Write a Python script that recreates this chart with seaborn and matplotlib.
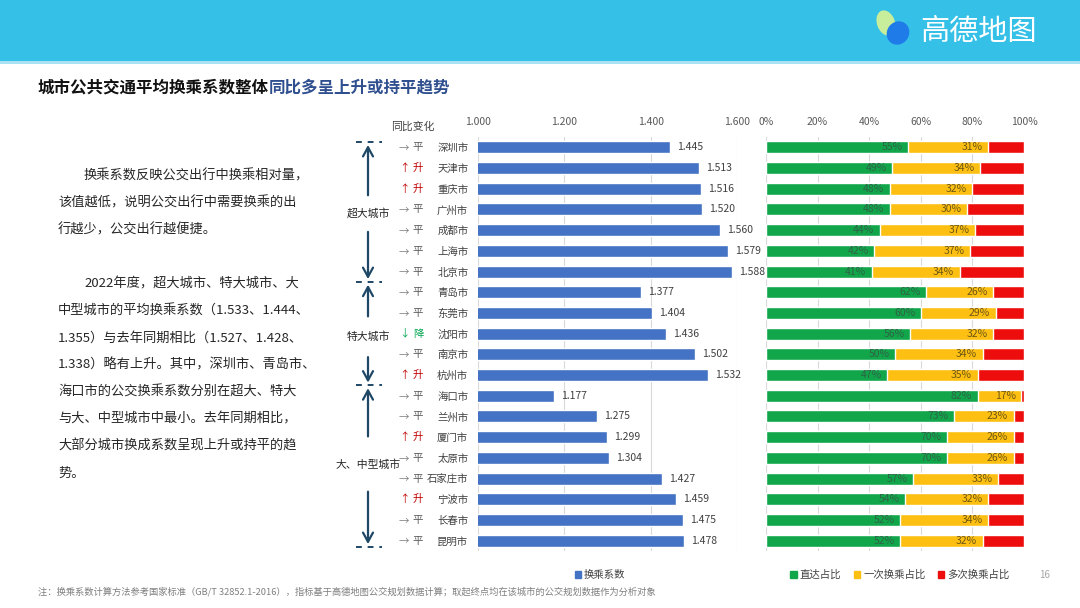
import numpy as np
import pandas as pd
import matplotlib
matplotlib.use('Agg')
import matplotlib.pyplot as plt
import seaborn as sns
from matplotlib.patches import Patch, Rectangle, Ellipse
from matplotlib import transforms

# ---------------- data ----------------
cities = ['深圳市', '天津市', '重庆市', '广州市', '成都市', '上海市', '北京市',
          '青岛市', '东莞市', '沈阳市', '南京市', '杭州市',
          '海口市', '兰州市', '厦门市', '太原市', '石家庄市', '宁波市', '长春市', '昆明市']
coef = [1.445, 1.513, 1.516, 1.520, 1.560, 1.579, 1.588,
        1.377, 1.404, 1.436, 1.502, 1.532,
        1.177, 1.275, 1.299, 1.304, 1.427, 1.459, 1.475, 1.478]
direct = [55, 49, 48, 48, 44, 42, 41,
          62, 60, 56, 50, 47,
          82, 73, 70, 70, 57, 54, 52, 52]
once = [31, 34, 32, 30, 37, 37, 34,
        26, 29, 32, 34, 35,
        17, 23, 26, 26, 33, 32, 34, 32]
changes = ['平', '升', '升', '平', '平', '平', '平',
           '平', '平', '降', '平', '升',
           '平', '平', '升', '平', '平', '升', '平', '平']
groups = ['超大城市', '特大城市', '大、中型城市']
group_sizes = [7, 5, 8]
coef_ticks = [1.0, 1.2, 1.4, 1.6]
pct_ticks = [0, 20, 40, 60, 80, 100]
legend1 = ['换乘系数']
legend2 = ['直达占比', '一次换乘占比', '多次换乘占比']

# ---------------- style ----------------
sns.set_theme(style='white')
plt.rcParams['font.family'] = ['Noto Sans CJK SC', 'DejaVu Sans']

BLUE = '#4472C4'
GREEN = '#12A64B'
YELLOW = '#FDBF12'
RED = '#EE0D0D'
NAVY = '#1F4866'
TXT = '#404040'

W, H = 1080, 608
fig = plt.figure(figsize=(W / 100, H / 100), dpi=100)
fig.patch.set_facecolor('white')


def fx(px):
    return px / W


def fy(py):
    return 1 - py / H


# background / decoration axes in pixel coordinates
bg = fig.add_axes([0, 0, 1, 1], zorder=0)
bg.set_xlim(0, W)
bg.set_ylim(H, 0)
bg.axis('off')
bg.add_patch(Rectangle((0, 0), W, 61, color='#35C0E8', lw=0))
bg.add_patch(Rectangle((0, 61), W, 3, color='#A8E2F3', lw=0))
# logo
bg.add_patch(Ellipse((886, 23), 18, 26, angle=-20, color='#C9EE9B', lw=0))
bg.add_patch(Ellipse((898, 33), 22, 24, angle=35, color='#1E7BE8', lw=0))
bg.text(978, 32, '高德地图', color='white', fontsize=21, ha='center', va='center')

# title
t1 = bg.text(38, 88, '城市公共交通平均换乘系数整体', fontsize=11.9, weight='bold',
             color='#111111', va='center', ha='left')
bg.annotate('同比多呈上升或持平趋势', xy=(1, 0.5), xycoords=t1, fontsize=11.9,
            weight='bold', color='#2F4F8F', va='center', ha='left')

# left paragraph
para = [
    (84, 176, '换乘系数反映公交出行中换乘相对量，'),
    (58, 203, '该值越低，说明公交出行中需要换乘的出'),
    (58, 230, '行越少，公交出行越便捷。'),
    (84, 284, '2022年度，超大城市、特大城市、大'),
    (58, 311, '中型城市的平均换乘系数（1.533、1.444、'),
    (58, 338, '1.355）与去年同期相比（1.527、1.428、'),
    (58, 365, '1.338）略有上升。其中，深圳市、青岛市、'),
    (58, 392, '海口市的公交换乘系数分别在超大、特大'),
    (58, 419, '与大、中型城市中最小。去年同期相比，'),
    (58, 446, '大部分城市换成系数呈现上升或持平的趋'),
    (58, 473, '势。'),
]
for x, y, s in para:
    bg.text(x, y, s, fontsize=9.5, color='#262626', ha='left', va='center')

# footnote and page number
bg.text(38, 592, '注：换乘系数计算方法参考国家标准（GB/T 32852.1-2016），指标基于高德地图公交规划数据计算；'
        '取起终点均在该城市的公交规划数据作为分析对象', fontsize=6.7, color='#7F7F7F',
        ha='left', va='center')
bg.text(1045, 575, '16', fontsize=7, color='#A6A6A6', ha='center', va='center')

# ---------------- chart 1: transfer coefficient ----------------
ax_bottom, ax_top = 551, 137
ax1 = fig.add_axes([fx(478), fy(ax_bottom), fx(737) - fx(478), fy(ax_top) - fy(ax_bottom)], zorder=2)
df = pd.DataFrame({'city': cities, 'coef': coef, 'direct': direct, 'once': once})
df['cum'] = df['direct'] + df['once']
df['total'] = 100

sns.barplot(data=df, x='coef', y='city', orient='h', color=BLUE, width=0.58,
            saturation=1, ax=ax1)
ax1.set_xlim(1.0, 1.6)
ax1.set_ylim(len(cities) - 0.5, -0.5)
ax1.xaxis.tick_top()
ax1.set_xticks(coef_ticks)
ax1.set_xticklabels([f'{v:.3f}' for v in coef_ticks])
ax1.tick_params(axis='x', length=0, pad=7, labelsize=7.5, colors='#595959')
ax1.tick_params(axis='y', length=0, pad=7, labelsize=7.5, colors=TXT)
ax1.set_xlabel('')
ax1.set_ylabel('')
ax1.grid(axis='x', color='#D9D9D9', lw=0.8)
ax1.set_axisbelow(True)
for sp in ax1.spines.values():
    sp.set_visible(False)
ax1.bar_label(ax1.containers[0], fmt='%.3f', padding=5, fontsize=7.5, color=TXT)

# change column
bt = transforms.blended_transform_factory(bg.transData, ax1.transData)
bg.text(413, 127, '同比变化', fontsize=7.8, color=TXT, ha='center', va='center')
chg_style = {'平': ('→', '#7F7F7F', '#595959'),
             '升': ('↑', '#C00000', '#C00000'),
             '降': ('↓', '#00A550', '#00A550')}
for i, c in enumerate(changes):
    arrow, ca, cc = chg_style[c]
    ax1.text(404, i, arrow, transform=bt, fontsize=7.5, color=ca, ha='center', va='center')
    ax1.text(418, i, c, transform=bt, fontsize=7.5, color=cc, ha='center', va='center')

# group brackets
AX_X = 368
starts = np.cumsum([0] + group_sizes[:-1])
ends = np.cumsum(group_sizes) - 1
gaps = [0.75, 0.85, 1.2]
offs = [0.2, 0.15, -0.2]
bounds = [-0.25] + [e + 0.5 for e in ends[:-1]] + [ends[-1] + 0.3]
for b in bounds:
    ax1.plot([356, 382], [b, b], transform=bt, color=NAVY, lw=1.4,
             ls=(0, (3, 3)), clip_on=False)
arrow_kw = dict(arrowstyle='->,head_width=0.3,head_length=0.55', color=NAVY, lw=1.6)
for gi, name in enumerate(groups):
    top = bounds[gi]
    bot = bounds[gi + 1]
    cy = (starts[gi] + ends[gi]) / 2 + offs[gi]
    ax1.text(AX_X, cy, name, transform=bt, fontsize=7.8, color='#262626',
             ha='center', va='center')
    ax1.annotate('', xy=(AX_X, top), xycoords=bt, xytext=(AX_X, cy - gaps[gi]),
                 textcoords=bt, arrowprops=arrow_kw, annotation_clip=False)
    ax1.annotate('', xy=(AX_X, bot), xycoords=bt, xytext=(AX_X, cy + gaps[gi]),
                 textcoords=bt, arrowprops=arrow_kw, annotation_clip=False)

# ---------------- chart 2: transfer shares ----------------
ax2 = fig.add_axes([fx(766), fy(ax_bottom), fx(1024) - fx(766), fy(ax_top) - fy(ax_bottom)], zorder=2)
sns.barplot(data=df, x='total', y='city', orient='h', color=RED, width=0.58,
            saturation=1, ax=ax2)
sns.barplot(data=df, x='cum', y='city', orient='h', color=YELLOW, width=0.58,
            saturation=1, ax=ax2)
sns.barplot(data=df, x='direct', y='city', orient='h', color=GREEN, width=0.58,
            saturation=1, ax=ax2)
ax2.set_xlim(0, 100)
ax2.set_ylim(len(cities) - 0.5, -0.5)
ax2.xaxis.tick_top()
ax2.set_xticks(pct_ticks)
ax2.set_xticklabels([f'{v}%' for v in pct_ticks])
ax2.tick_params(axis='x', length=0, pad=7, labelsize=7.5, colors='#595959')
ax2.set_yticks([])
ax2.set_xlabel('')
ax2.set_ylabel('')
ax2.grid(axis='x', color='#D9D9D9', lw=0.8)
ax2.set_axisbelow(True)
for sp in ax2.spines.values():
    sp.set_visible(False)
for i, (d, o) in enumerate(zip(direct, once)):
    ax2.annotate(f'{d}%', xy=(d, i), xytext=(-4, 0), textcoords='offset points',
                 ha='right', va='center', fontsize=7.5, color='#2E6446')
    ax2.annotate(f'{o}%', xy=(d + o, i), xytext=(-4, 0), textcoords='offset points',
                 ha='right', va='center', fontsize=7.5, color='#6E5714')

# ---------------- legends ----------------
fig.legend(handles=[Patch(color=BLUE)], labels=legend1, loc='center',
           bbox_to_anchor=(fx(600), fy(575)), frameon=False, fontsize=7.5,
           handlelength=0.6, handleheight=0.6, handletextpad=0.3, labelcolor=TXT)
fig.legend(handles=[Patch(color=GREEN), Patch(color=YELLOW), Patch(color=RED)],
           labels=legend2, loc='center', ncol=3,
           bbox_to_anchor=(fx(900), fy(575)), frameon=False, fontsize=7.5,
           handlelength=0.6, handleheight=0.6, handletextpad=0.3,
           columnspacing=1.2, labelcolor=TXT)

fig.savefig('out.png', dpi=100, facecolor='white')
